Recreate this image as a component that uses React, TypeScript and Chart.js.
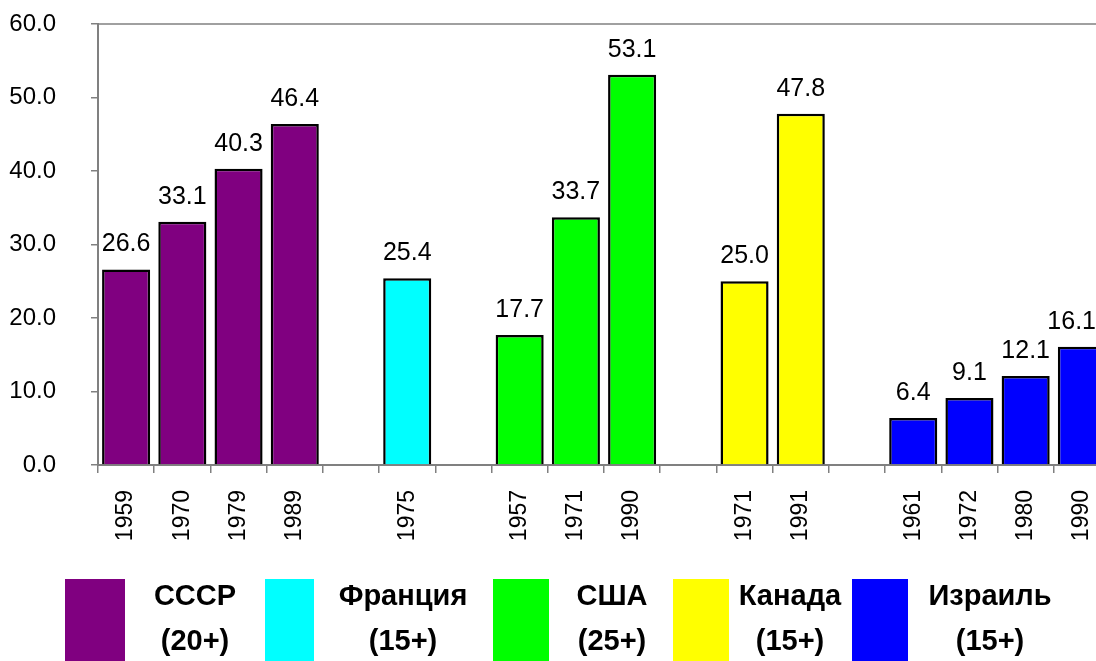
import React, { useEffect, useRef } from "react";
import { Chart, registerables } from "chart.js";

Chart.register(...registerables);

const ussrYears = ["1959", "1970", "1979", "1989"];
const ussrValues = [26.6, 33.1, 40.3, 46.4];
const franceYears = ["1975"];
const franceValues = [25.4];
const usaYears = ["1957", "1971", "1990"];
const usaValues = [17.7, 33.7, 53.1];
const canadaYears = ["1971", "1991"];
const canadaValues = [25.0, 47.8];
const israelYears = ["1961", "1972", "1980", "1990"];
const israelValues = [6.4, 9.1, 12.1, 16.1];

const countryNames = ["СССР", "Франция", "США", "Канада", "Израиль"];
const countryAges = ["(20+)", "(15+)", "(25+)", "(15+)", "(15+)"];
const countryColors = ["#800080", "#00FFFF", "#00FF00", "#FFFF00", "#0000FF"];

const yMin = 0;
const yMax = 60;
const yStep = 10;

const FONT = "'Liberation Sans', Arial, sans-serif";

const groups = [
  { years: ussrYears, values: ussrValues },
  { years: franceYears, values: franceValues },
  { years: usaYears, values: usaValues },
  { years: canadaYears, values: canadaValues },
  { years: israelYears, values: israelValues },
];

function buildData() {
  const labels: string[] = [];
  const data: (number | null)[] = [];
  const colors: string[] = [];
  groups.forEach((g, gi) => {
    if (gi > 0) {
      labels.push("");
      data.push(null);
      colors.push("rgba(0,0,0,0)");
    }
    g.years.forEach((y, i) => {
      labels.push(y);
      data.push(g.values[i]);
      colors.push(countryColors[gi]);
    });
  });
  return { labels, data, colors };
}

const valueLabelPlugin = {
  id: "valueLabels",
  afterDatasetsDraw(chart: any) {
    const ctx = chart.ctx;
    ctx.save();
    ctx.font = `25px ${FONT}`;
    ctx.fillStyle = "#000";
    ctx.textAlign = "center";
    ctx.textBaseline = "middle";
    const maxRight = chart.width - 14;
    chart.data.datasets.forEach((ds: any, di: number) => {
      const meta = chart.getDatasetMeta(di);
      meta.data.forEach((bar: any, i: number) => {
        const v = ds.data[i];
        if (v === null || v === undefined) return;
        const txt = v.toFixed(1);
        const half = ctx.measureText(txt).width / 2;
        const x = Math.min(bar.x, maxRight - half);
        ctx.fillText(txt, x, bar.y - 25);
      });
    });
    ctx.restore();
  },
};

const topLinePlugin = {
  id: "topLine",
  afterDraw(chart: any) {
    const { ctx, chartArea } = chart;
    ctx.save();
    ctx.strokeStyle = "#808080";
    ctx.lineWidth = 1.5;
    ctx.beginPath();
    ctx.moveTo(chartArea.left, chartArea.top);
    ctx.lineTo(chartArea.right, chartArea.top);
    ctx.stroke();
    ctx.restore();
  },
};

const legendBoxes = [
  { left: 65, width: 60, text: 195 },
  { left: 265, width: 49, text: 403 },
  { left: 493, width: 56, text: 612 },
  { left: 673, width: 56, text: 790 },
  { left: 852, width: 56, text: 990 },
];

export default function App() {
  const canvasRef = useRef<HTMLCanvasElement | null>(null);

  useEffect(() => {
    if (!canvasRef.current) return;
    const { labels, data, colors } = buildData();
    const chart = new Chart(canvasRef.current, {
      type: "bar",
      data: {
        labels,
        datasets: [
          {
            data,
            backgroundColor: colors,
            borderColor: "#000000",
            borderWidth: 2.5,
            barPercentage: 0.855,
            categoryPercentage: 1.0,
          },
        ],
      },
      options: {
        responsive: false,
        animation: false,
        layout: { padding: { top: 24, left: 0, right: 0, bottom: 0 } },
        plugins: {
          legend: { display: false },
          tooltip: { enabled: false },
        },
        scales: {
          x: {
            offset: true,
            grid: {
              display: true,
              drawOnChartArea: false,
              drawTicks: true,
              tickLength: 8,
              color: "#808080",
              lineWidth: 1.5,
              offset: true,
            },
            border: { display: true, color: "#808080", width: 2 },
            ticks: {
              autoSkip: false,
              maxRotation: 90,
              minRotation: 90,
              padding: 17,
              color: "#000",
              font: { family: FONT, size: 23 },
            },
            afterFit(scale: any) {
              scale.height = 196;
              scale.paddingLeft = 0;
              scale.paddingRight = 0;
            },
          },
          y: {
            min: yMin,
            max: yMax,
            grid: {
              display: true,
              drawOnChartArea: false,
              drawTicks: true,
              tickLength: 7,
              color: "#808080",
              lineWidth: 1.5,
            },
            border: { display: true, color: "#808080", width: 2 },
            ticks: {
              stepSize: yStep,
              padding: 35,
              color: "#000",
              font: { family: FONT, size: 24 },
              callback: (v: any) => Number(v).toFixed(1),
            },
            afterFit(scale: any) {
              scale.width = 98;
              scale.paddingTop = 0;
              scale.paddingBottom = 0;
            },
          },
        },
      },
      plugins: [valueLabelPlugin, topLinePlugin],
    });
    return () => chart.destroy();
  }, []);

  return (
    <div style={{ position: "absolute", left: 0, top: 0, width: 1110, height: 661, background: "#fff" }}>
      <style>{`html,body{overflow:hidden;margin:0;}`}</style>
      <canvas ref={canvasRef} width={1110} height={661} style={{ position: "absolute", left: 0, top: 0 }} />
      {legendBoxes.map((b, i) => (
        <React.Fragment key={i}>
          <div
            style={{
              position: "absolute",
              left: b.left,
              top: 579,
              width: b.width,
              height: 82,
              background: countryColors[i],
            }}
          />
          <div
            style={{
              position: "absolute",
              left: b.text - 90,
              width: 180,
              top: 595 - 16,
              height: 32,
              lineHeight: "32px",
              textAlign: "center",
              font: `bold 29px ${FONT}`,
              color: "#000",
            }}
          >
            {countryNames[i]}
          </div>
          <div
            style={{
              position: "absolute",
              left: b.text - 90,
              width: 180,
              top: 640 - 16,
              height: 32,
              lineHeight: "32px",
              textAlign: "center",
              font: `bold 29px ${FONT}`,
              color: "#000",
            }}
          >
            {countryAges[i]}
          </div>
        </React.Fragment>
      ))}
    </div>
  );
}
